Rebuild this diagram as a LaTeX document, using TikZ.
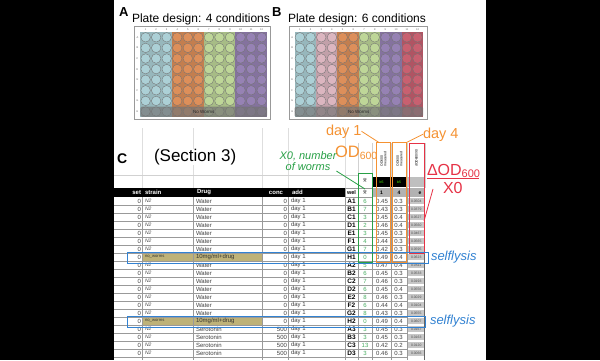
\documentclass[tikz,border=0pt]{standalone}
\usepackage{fontspec}
\setmainfont{Liberation Sans}
\definecolor{wb}{RGB}{172,208,214}
\definecolor{wo}{RGB}{221,143,90}
\definecolor{wgr}{RGB}{190,214,152}
\definecolor{wpu}{RGB}{150,130,180}
\definecolor{wpk}{RGB}{220,182,192}
\definecolor{wrd}{RGB}{200,96,112}
\definecolor{cgreen}{RGB}{40,160,70}
\definecolor{corange}{RGB}{245,146,50}
\definecolor{cred}{RGB}{230,50,70}
\definecolor{cblue}{RGB}{50,130,210}
\definecolor{olivec}{RGB}{190,178,120}
\newcommand\myfs[1]{\fontsize{#1}{#1}\selectfont}
\begin{document}
\begin{tikzpicture}[x=1pt,y=-1pt,
  txt/.style={inner sep=0pt,outer sep=0pt},
  cellt/.style={txt,font=\myfs{6}},
  hdrt/.style={txt,font=\bfseries\myfs{6},text=white},
  tiny/.style={txt,font=\myfs{2.6},text=black!60},
  gridl/.style={black!40,line width=0.3},
  wellc/.style={black!55,line width=0.35},
  framec/.style={black!40,line width=0.6,fill=white},
  boxl/.style={line width=1pt},
  lead/.style={line width=0.8pt}]
\useasboundingbox (0,0) rectangle (600,360);
\fill[black] (0,0) rectangle (600,360);
\fill[white] (114,0) rectangle (486,360);

% ---------- Panel A ----------
\node[txt,anchor=base west,font=\bfseries\myfs{13}] (labA) at (119,16) {A};
\node[txt,anchor=base west,font=\myfs{12}] (titA) at (132,22) {Plate design: 4 conditions};
\draw[framec] (134.5,26.5) rectangle (270.5,119.5);
\foreach \cl [count=\j from 1] in {wb,wb,wb,wo,wo,wo,wgr,wgr,wgr,wpu,wpu,wpu}{
  \pgfmathsetmacro\cx{145.6+10.55*(\j-1)}
  \fill[\cl!88!black] (\cx-5.3,32) rectangle (\cx+5.3,116.8);
  \foreach \i in {0,...,7}{
    \pgfmathsetmacro\cy{37.3+10.6*\i}
    \draw[wellc,fill=\cl] (\cx,\cy) circle (4.75);
  }
  \node[tiny] (pa\j) at (\cx,29.4) {\j};
}
\foreach \L [count=\i from 0] in {A,B,C,D,E,F,G,H}{
  \node[tiny] (ra\i) at (137.4,37.3+10.6*\i) {\L};
}
\fill[black!55,opacity=0.7,rounded corners=1.5] (140.3,106.5) rectangle (267.2,116.8);
\node[txt,font=\myfs{4.5},text=black!85] (nwA) at (203.7,111.7) {No Worms};

% ---------- Panel B ----------
\node[txt,anchor=base west,font=\bfseries\myfs{13}] (labB) at (272,16) {B};
\node[txt,anchor=base west,font=\myfs{12}] (titB) at (288,22) {Plate design: 6 conditions};
\draw[framec] (289.5,26.5) rectangle (427.5,119.5);
\foreach \cl [count=\j from 1] in {wb,wb,wpk,wpk,wo,wo,wgr,wgr,wpu,wpu,wrd,wrd}{
  \pgfmathsetmacro\cx{299.85+10.7*(\j-1)}
  \fill[\cl!88!black] (\cx-5.35,32) rectangle (\cx+5.35,116.8);
  \foreach \i in {0,...,7}{
    \pgfmathsetmacro\cy{37.3+10.6*\i}
    \draw[wellc,fill=\cl] (\cx,\cy) circle (4.8);
  }
  \node[tiny] (pb\j) at (\cx,29.4) {\j};
}
\foreach \L [count=\i from 0] in {A,B,C,D,E,F,G,H}{
  \node[tiny] (rb\i) at (292.2,37.3+10.6*\i) {\L};
}
\fill[black!55,opacity=0.7,rounded corners=1.5] (294.5,106.5) rectangle (423.2,116.8);
\node[txt,font=\myfs{4.5},text=black!85] (nwB) at (358.8,111.7) {No Worms};

% ---------- Panel C ----------
\foreach \x in {142,193,262,288,345}{ \draw[black!13,line width=0.3] (\x,128) -- (\x,188); }
\draw[black!18,line width=0.3] (114,175) -- (358,175);
\foreach \x in {358,372,391,407,425}{ \draw[black!18,line width=0.3] (\x,143) -- (\x,188); }
\node[txt,anchor=base west,font=\bfseries\myfs{14}] (labC) at (117,163) {C};
\node[txt,anchor=base west,font=\myfs{17},fill=white] (sect) at (154,161) {(Section 3)};

% upper header rows
\fill[black] (372,177) rectangle (407,187);
\fill[black!25] (407,177) rectangle (425,187);
\node[txt,font=\myfs{3.5},text=green!70!yellow] (t1) at (381.5,182) {b5};
\node[txt,font=\myfs{3.5},text=green!70!yellow] (t2) at (399,182) {b5};
\node[txt,rotate=90,font=\myfs{4}] (x0top) at (365,180.5) {X0};
\node[txt,rotate=90,align=left,font=\myfs{3.4}] (od1t) at (383.5,159) {OD600\\measured};
\node[txt,rotate=90,align=left,font=\myfs{3.4}] (od4t) at (399.5,159) {OD600\\measured};
\node[txt,rotate=90,font=\myfs{3.4}] (rtt) at (416.5,158) {dOD600/X0};

% header row
\fill[black] (114,188) rectangle (345,197);
\draw[gridl,fill=white] (345,188) rectangle (358,197);
\draw[gridl,fill=white] (358,188) rectangle (372,197);
\fill[black!30] (372,188) rectangle (425,197);
\foreach \x in {391,407}{ \draw[gridl] (\x,188) -- (\x,197); }
\node[hdrt,anchor=east] (hset) at (141,192.5) {set};
\node[hdrt,anchor=west] (hstr) at (145,192.5) {strain};
\node[hdrt,anchor=west] (hdrug) at (197,192.5) {Drug};
\node[hdrt,anchor=east] (hconc) at (283,192.5) {conc};
\node[hdrt,anchor=west] (hadd) at (292,192.5) {add};
\node[txt,font=\bfseries\myfs{5.5}] (hwel) at (351.5,192.7) {wel};
\node[txt,rotate=90,font=\myfs{4}] (hx0) at (365,192.5) {X0};
\node[txt,font=\bfseries\myfs{5}] (h1) at (381.5,192.7) {1};
\node[txt,font=\bfseries\myfs{5}] (h4) at (399,192.7) {4};
\node[txt,font=\bfseries\myfs{5}] (he) at (420,192.7) {e};

% no-worms row fills
\foreach \i in {7,15}{ \fill[olivec] (142,197+8*\i) rectangle (262,205+8*\i); }
% ratio cells
\foreach \i in {0,...,19}{ \fill[black!22] (407.8,197.8+8*\i) rectangle (424.5,204.4+8*\i); }
% grid
\foreach \k in {1,...,20}{ \draw[gridl] (114,197+8*\k) -- (407,197+8*\k); }
\foreach \x in {142,193,262,288,345,358,372,391,407}{ \draw[gridl] (\x,197) -- (\x,360); }
\draw[black!60,line width=0.5] (424.5,197) -- (424.5,360);

% data
\foreach \qw/\qx/\qa/\qb/\qr/\qc [count=\i from 0] in {
 A1/6/0.45/0.3/0.0504/0, B1/7/0.43/0.3/0.0379/0, C1/3/0.45/0.4/0.0527/0,
 D1/2/0.46/0.4/0.0560/0, E1/3/0.45/0.3/0.0467/0, F1/4/0.44/0.3/0.0565/0,
 G1/7/0.42/0.3/0.0595/0, H1/0/0.49/0.4/0.0623/0, A2/5/0.47/0.4/0.0511/0,
 B2/6/0.45/0.3/0.0533/0, C2/7/0.46/0.3/0.0193/0, D2/6/0.45/0.4/0.0556/0,
 E2/8/0.46/0.3/0.0029/0, F2/6/0.44/0.4/0.0104/0, G2/8/0.43/0.3/0.0555/0,
 H2/0/0.49/0.4/0.0607/0, A3/3/0.45/0.3/0.0167/500, B3/3/0.45/0.3/0.0163/500,
 C3/13/0.42/0.2/0.0120/500, D3/3/0.46/0.3/0.0066/500}{
  \pgfmathsetmacro\yy{201+8*\i}
  \node[cellt,anchor=east,text=black!75] (set\i) at (141,\yy) {0};
  \node[cellt,anchor=east,text=black!75] (conc\i) at (287,\yy) {\qc};
  \node[cellt,anchor=west,text=black!75] (add\i) at (291,\yy) {day 1};
  \node[txt,font=\bfseries\myfs{6.5}] (well\i) at (351.5,\yy) {\qw};
  \node[cellt,text=cgreen!85!white] (xo\i) at (365,\yy) {\qx};
  \node[cellt,text=black!75] (oda\i) at (382,\yy) {\qa};
  \node[cellt,text=black!75] (odb\i) at (398.5,\yy) {\qb};
  \node[txt,font=\myfs{3.4},text=black!70] (rat\i) at (416.2,\yy) {\qr};
}
\foreach \i in {0,...,6,8,9,...,14}{
  \node[txt,anchor=west,font=\itshape\myfs{5},text=black!70] (st\i) at (145,201+8*\i) {N2};
  \node[cellt,anchor=west,text=black!75] (dr\i) at (196,201+8*\i) {Water};
}
\foreach \i in {16,...,19}{
  \node[txt,anchor=west,font=\itshape\myfs{5},text=black!70] (st\i) at (145,201+8*\i) {N2};
  \node[cellt,anchor=west,text=black!75] (dr\i) at (196,201+8*\i) {Serotonin};
}
\foreach \i in {7,15}{
  \node[txt,anchor=west,font=\myfs{4.2},text=black!80] (st\i) at (145,201+8*\i) {no\_worms};
  \node[cellt,anchor=west,text=black!80] (dr\i) at (196,201+8*\i) {10mg/ml+drug};
}

% coloured boxes
\draw[boxl,cgreen] (358,173) rectangle (372,262);
\draw[boxl,corange] (376.5,142.5) rectangle (390.5,262);
\draw[boxl,corange] (392,142.5) rectangle (406.5,262);
\draw[boxl,cred] (409,143) rectangle (424,253);
\draw[boxl,cblue] (127,252) rectangle (428,263);
\draw[boxl,cblue] (127,316) rectangle (425,327);

% annotations
\node[txt,anchor=base west,font=\myfs{14.5},text=corange] (day1) at (326,135) {day 1};
\node[txt,anchor=base west,font=\myfs{14.5},text=corange] (day4) at (423,138) {day 4};
\coordinate (ob1) at (379,142.5);
\coordinate (ob2) at (406.5,142.5);
\draw[lead,corange] (day1.east) -- (ob1);
\draw[lead,corange] (day4.west) -- (ob2);
\node[txt,anchor=base west,font=\myfs{16.5},text=corange] (od) at (335,157) {OD\raisebox{-2.5pt}{\myfs{10.5}600}};
\node[txt,align=center,font=\itshape\myfs{11},text=cgreen] (x0lbl) at (308,161.5) {X0, number\\of worms};
\coordinate (x0hd) at (365,189);
\draw[lead,cgreen] (x0lbl.south east) -- (x0hd);
\node[txt,anchor=base west,font=\myfs{16},text=cred] (fnum) at (427,175) {ΔOD\raisebox{-2.5pt}{\myfs{11}600}};
\draw[cred,line width=0.9pt] (427,178.5) -- (479,178.5);
\node[txt,anchor=base west,font=\myfs{16},text=cred] (fden) at (443,193) {X0};
\coordinate (rbx) at (424,221);
\draw[lead,cred] (rbx) -- ([xshift=-10pt,yshift=-1.5pt]fden.west);
\node[txt,anchor=west,font=\itshape\myfs{13},text=cblue] (sl1) at (431,257.5) {selflysis};
\node[txt,anchor=west,font=\itshape\myfs{13},text=cblue] (sl2) at (430,321.5) {selflysis};
\end{tikzpicture}
\end{document}
